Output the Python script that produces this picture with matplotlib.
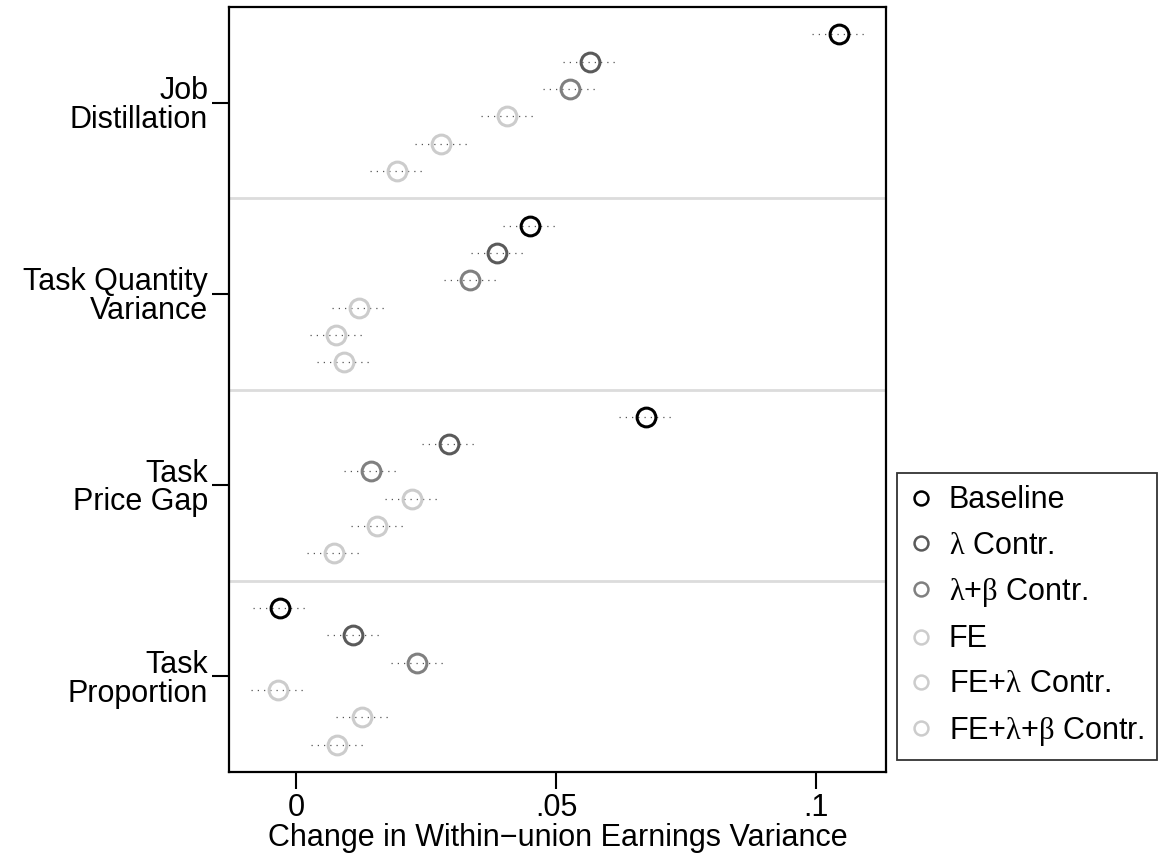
import numpy as np
import matplotlib
matplotlib.use("Agg")
import matplotlib.pyplot as plt

plt.rcParams['font.family'] = ['Liberation Sans', 'DejaVu Sans']
plt.rcParams['mathtext.fontset'] = 'custom'
plt.rcParams['mathtext.rm'] = 'Liberation Serif'

# components (top to bottom) and the six estimates for each
components = ["Job\nDistillation", "Task Quantity\nVariance", "Task\nPrice Gap", "Task\nProportion"]
series = ["Baseline", r"$\mathrm{\lambda}$ Contr.", r"$\mathrm{\lambda}$+$\mathrm{\beta}$ Contr.",
          "FE", r"FE+$\mathrm{\lambda}$ Contr.", r"FE+$\mathrm{\lambda}$+$\mathrm{\beta}$ Contr."]
colors = ["black", "#5a5a5a", "#808080", "#cccccc", "#cccccc", "#cccccc"]

baseline   = [0.1044, 0.0450, 0.0673, -0.0031]
lam        = [0.0565, 0.0387, 0.0294, 0.0110]
lam_beta   = [0.0527, 0.0335, 0.0144, 0.0233]
fe         = [0.0406, 0.0121, 0.0223, -0.0035]
fe_lam     = [0.0279, 0.0077, 0.0156, 0.0127]
fe_lam_beta = [0.0194, 0.0092, 0.0073, 0.0079]
ci_half    = [0.0051, 0.0051, 0.0051, 0.0051]   # 95% CI half width per component

est = [baseline, lam, lam_beta, fe, fe_lam, fe_lam_beta]

FS = 22

fig = plt.figure(figsize=(11.75, 8.56), dpi=100)
ax = fig.add_axes([229/1175, 1-772/856, (886-229)/1175, (772-7)/856])

for g in range(len(components)):
    for i, vals in enumerate(est):
        y = g*7 + i + 1
        x = vals[g]
        ax.plot([x - ci_half[g], x + ci_half[g]], [y, y], color="#555555",
                lw=0.9, ls=(0, (1, 4)), zorder=2)
        ax.plot(x, y, "o", ms=13.5, mfc="none", mec=colors[i], mew=2.2, zorder=3)

for s in [7, 14, 21]:
    ax.axhline(s, color="#dcdcdc", lw=2, zorder=1)

ax.set_ylim(28, 0)
ax.set_xlim(-0.0129, 0.1135)
ax.set_yticks([g*7 + 3.5 for g in range(len(components))])
ax.set_yticklabels(components, fontsize=FS, ha="right", linespacing=0.95)
ax.set_xticks([0, 0.05, 0.1])
ax.set_xticklabels(["0", ".05", ".1"], fontsize=FS)
ax.set_xlabel("Change in Within\u2212union Earnings Variance", fontsize=FS, labelpad=0)
ax.tick_params(length=12, width=1.5, pad=3)
for sp in ax.spines.values():
    sp.set_linewidth(1.6)

handles = [plt.Line2D([], [], ls="none", marker="o", ms=10, mfc="none", mec=c, mew=1.8)
           for c in colors]
leg = fig.legend(handles, series, loc="lower left", bbox_to_anchor=(897/1175, 1-760/856),
                 fontsize=FS, frameon=True, fancybox=False, edgecolor="black",
                 labelspacing=0.5, handlelength=0.8, handletextpad=0.5, borderpad=0.4,
                 borderaxespad=0)
leg.get_frame().set_linewidth(1.3)

fig.savefig("out.png", dpi=100)
